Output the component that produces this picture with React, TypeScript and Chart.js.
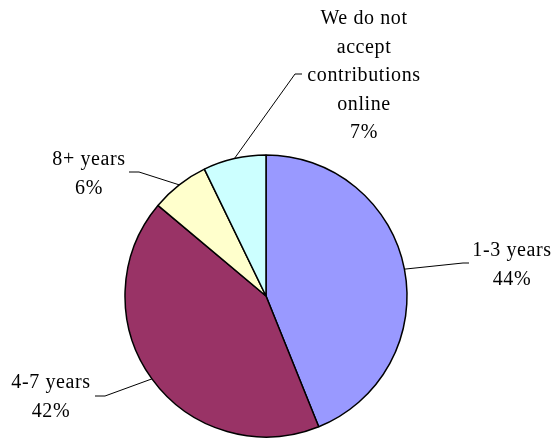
import React, { useEffect, useRef } from "react";
import { Chart, registerables } from "chart.js";

Chart.register(...registerables);

// Data
const categories = ["1-3 years", "4-7 years", "8+ years", "We do not accept contributions online"];
const labelLines = [["1-3 years"], ["4-7 years"], ["8+ years"], ["We do not", "accept", "contributions", "online"]];
const values = [43.9, 42.2, 6.7, 7.2];
const percentLabels = ["44%", "42%", "6%", "7%"];
const colors = ["#9999FF", "#993366", "#FFFFCC", "#CCFFFF"];

// Layout of the callout labels (annotation positions, not data)
const labelCenters = [
  [512, 265],
  [51, 397],
  [89, 174],
  [364, 76],
];
const leaderElbows = [
  [463, 263],
  [105, 396],
  [139, 172],
  [295, 74],
];
const leaderEnds = [
  [469, 263],
  [95, 396],
  [129, 172],
  [302, 74],
];

const LINE_HEIGHT = 28.5;
const FONT = '20px "Liberation Serif", "Times New Roman", serif';

const calloutPlugin = {
  id: "callouts",
  afterDatasetsDraw(chart: any) {
    const ctx = chart.ctx as CanvasRenderingContext2D;
    const meta = chart.getDatasetMeta(0);
    ctx.save();
    meta.data.forEach((arc: any, i: number) => {
      const p = arc.getProps(["x", "y", "startAngle", "endAngle", "outerRadius"], true);
      const mid = (p.startAngle + p.endAngle) / 2;
      const sx = p.x + Math.cos(mid) * p.outerRadius;
      const sy = p.y + Math.sin(mid) * p.outerRadius;
      ctx.strokeStyle = "#000";
      ctx.lineWidth = 1;
      ctx.beginPath();
      ctx.moveTo(sx, sy);
      ctx.lineTo(leaderElbows[i][0], leaderElbows[i][1]);
      ctx.lineTo(leaderEnds[i][0], leaderEnds[i][1]);
      ctx.stroke();

      const lines = [...labelLines[i], percentLabels[i]];
      const [cx, cy] = labelCenters[i];
      ctx.fillStyle = "#000";
      ctx.font = FONT;
      (ctx as any).letterSpacing = "0.6px";
      ctx.textAlign = "center";
      ctx.textBaseline = "middle";
      const top = cy - ((lines.length - 1) * LINE_HEIGHT) / 2;
      lines.forEach((t, k) => {
        ctx.fillText(t, cx, top + k * LINE_HEIGHT);
      });
    });
    ctx.restore();
  },
};

export default function App() {
  const ref = useRef<HTMLCanvasElement | null>(null);
  useEffect(() => {
    document.body.style.margin = "0";
    const canvas = ref.current!;
    const chart = new Chart(canvas, {
      type: "pie",
      data: {
        labels: categories,
        datasets: [
          {
            data: values,
            backgroundColor: colors,
            borderColor: "#000000",
            borderWidth: 1.5,
          },
        ],
      },
      options: {
        responsive: false,
        animation: false,
        radius: 141,
        layout: { padding: { left: 0, right: 21, top: 154, bottom: 0 } },
        plugins: {
          legend: { display: false },
          tooltip: { enabled: false },
          title: { display: false },
        },
      } as any,
      plugins: [calloutPlugin],
    });
    return () => chart.destroy();
  }, []);
  return (
    <div style={{ width: 553, height: 438, background: "#fff" }}>
      <canvas ref={ref} width={553} height={438} style={{ display: "block" }} />
    </div>
  );
}
